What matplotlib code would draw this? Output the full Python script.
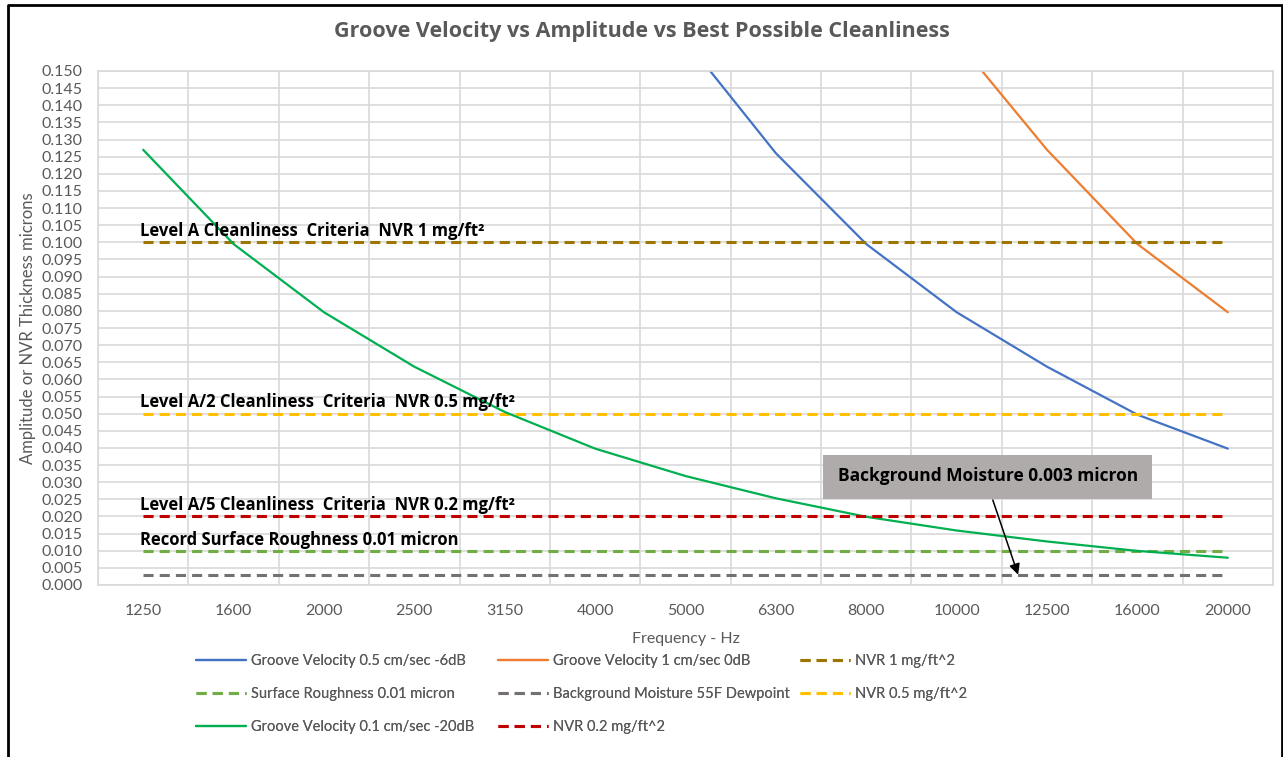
import numpy as np
import matplotlib
matplotlib.use("Agg")
import matplotlib.pyplot as plt
from matplotlib.lines import Line2D
from matplotlib.patches import Rectangle

plt.rcParams['font.family'] = ['Lato', 'DejaVu Sans']
BOLD_FONT = ['Open Sans', 'DejaVu Sans']

W, H = 1283, 757

# ---- data ----
FREQS = ["1250", "1600", "2000", "2500", "3150", "4000", "5000",
         "6300", "8000", "10000", "12500", "16000", "20000"]
VEL_05 = [0.637, 0.497, 0.398, 0.318, 0.253, 0.199, 0.159,
          0.126, 0.0995, 0.0796, 0.0637, 0.0497, 0.0398]
VEL_1 = [1.273, 0.995, 0.796, 0.637, 0.505, 0.398, 0.318,
         0.253, 0.199, 0.159, 0.127, 0.0995, 0.0796]
VEL_01 = [0.127, 0.0995, 0.0796, 0.0637, 0.0505, 0.0398, 0.0318,
          0.0253, 0.0199, 0.0159, 0.0127, 0.00995, 0.00796]
NVR_1 = 0.100
NVR_05 = 0.050
NVR_02 = 0.020
SURF = 0.010
MOIST = 0.003

GRAY_TXT = "#595959"
GRID = "#D9D9D9"
DASH = (0, (3.3, 2.0))

fig = plt.figure(figsize=(W / 100, H / 100), dpi=100)
ax = fig.add_axes([98 / W, 1 - 585 / H, (1273 - 98) / W, (585 - 71) / H])

x = np.arange(len(FREQS))
n = len(FREQS)

h_blue, = ax.plot(x, VEL_05, color="#4472C4", lw=1.6, solid_capstyle="round")
h_orange, = ax.plot(x, VEL_1, color="#ED7D31", lw=1.6, solid_capstyle="round")
h_nvr1, = ax.plot(x, [NVR_1] * n, color="#9C7600", lw=2.2, ls=DASH)
h_surf, = ax.plot(x, [SURF] * n, color="#70AD47", lw=2.2, ls=DASH)
h_moist, = ax.plot(x, [MOIST] * n, color="#767171", lw=2.2, ls=DASH)
h_nvr05, = ax.plot(x, [NVR_05] * n, color="#FFC000", lw=2.2, ls=DASH)
h_green, = ax.plot(x, VEL_01, color="#00B050", lw=1.6, solid_capstyle="round")
h_nvr02, = ax.plot(x, [NVR_02] * n, color="#C00000", lw=2.2, ls=DASH)

ax.set_xlim(-0.5, n - 0.5)
ax.set_ylim(0, 0.150)
ax.set_yticks(np.arange(0, 0.1501, 0.005))
ax.yaxis.set_major_formatter(matplotlib.ticker.FormatStrFormatter("%.3f"))
ax.set_xticks(x)
ax.set_xticklabels(FREQS)
ax.set_xticks(np.arange(-0.5, n, 1.0), minor=True)
ax.tick_params(axis="both", which="both", length=0, labelsize=11.5, colors=GRAY_TXT)
ax.tick_params(axis="x", pad=14)
ax.tick_params(axis="y", pad=11)
ax.yaxis.grid(True, color=GRID, lw=1.2)
ax.xaxis.grid(True, which="minor", color=GRID, lw=1.2)
ax.set_axisbelow(True)
for s in ax.spines.values():
    s.set_color(GRID)
    s.set_linewidth(1.2)

ax.set_xlabel("Frequency - Hz", fontsize=11.5, color=GRAY_TXT, labelpad=10)
ax.set_ylabel("Amplitude or NVR Thickness microns", fontsize=12, color=GRAY_TXT, labelpad=4)

fig.text(0.5, 1 - 32 / H, "Groove Velocity vs Amplitude vs Best Possible Cleanliness",
         ha="center", va="center", fontsize=15.5, fontweight="bold", color=GRAY_TXT,
         family=BOLD_FONT)

# labels above the criteria lines
off = 0.0018
lab_kw = dict(fontsize=12, fontweight="bold", color="black", va="baseline",
              ha="left", family=BOLD_FONT)
ax.text(-0.03, NVR_1 + off, "Level A Cleanliness  Criteria  NVR 1 mg/ft²", **lab_kw)
ax.text(-0.03, NVR_05 + off, "Level A/2 Cleanliness  Criteria  NVR 0.5 mg/ft²", **lab_kw)
ax.text(-0.03, NVR_02 + off, "Level A/5 Cleanliness  Criteria  NVR 0.2 mg/ft²", **lab_kw)
ax.text(-0.03, SURF + off, "Record Surface Roughness 0.01 micron", **lab_kw)

# callout box + arrow for background moisture
ax.add_patch(Rectangle((7.52, 0.0251), 3.64, 0.0128, facecolor="#AFABAB",
                       edgecolor="none", zorder=5))
ax.text(7.69, 0.0317, "Background Moisture 0.003 micron", fontsize=12.5,
        fontweight="bold", color="black", va="center", ha="left", zorder=6,
        family=BOLD_FONT)
ax.annotate("", xy=(9.68, MOIST), xytext=(9.40, 0.0248),
            arrowprops=dict(arrowstyle="-|>", color="black", lw=1.1,
                            mutation_scale=16, shrinkA=0, shrinkB=0), zorder=6)

# legend: three columns placed separately (Excel row-major layout)
leg_kw = dict(loc="upper left", frameon=False, fontsize=10.5, handlelength=3.4,
              handletextpad=0.35, labelspacing=1.3, borderpad=0, borderaxespad=0,
              labelcolor=GRAY_TXT)
cols = [
    ([h_blue, h_surf, h_green],
     ["Groove Velocity 0.5 cm/sec -6dB", "Surface Roughness 0.01 micron",
      "Groove Velocity 0.1 cm/sec -20dB"], 196),
    ([h_orange, h_moist, h_nvr02],
     ["Groove Velocity 1 cm/sec 0dB", "Background Moisture 55F Dewpoint",
      "NVR 0.2 mg/ft^2"], 498),
    ([h_nvr1, h_nvr05],
     ["NVR 1 mg/ft^2", "NVR 0.5 mg/ft^2"], 800),
]
for hs, labs, px in cols:
    lg = fig.legend(hs, labs, bbox_to_anchor=(px / W, 1 - 654 / H), **leg_kw)
    fig.add_artist(lg)

# outer frame (open at the bottom, like the cropped screenshot)
fig.add_artist(Line2D([8 / W, 8 / W, 1281.5 / W, 1281.5 / W],
                      [-0.02, 1 - 4.5 / H, 1 - 4.5 / H, -0.02],
                      transform=fig.transFigure, color="black", lw=2))

fig.savefig("out.png", dpi=100)
